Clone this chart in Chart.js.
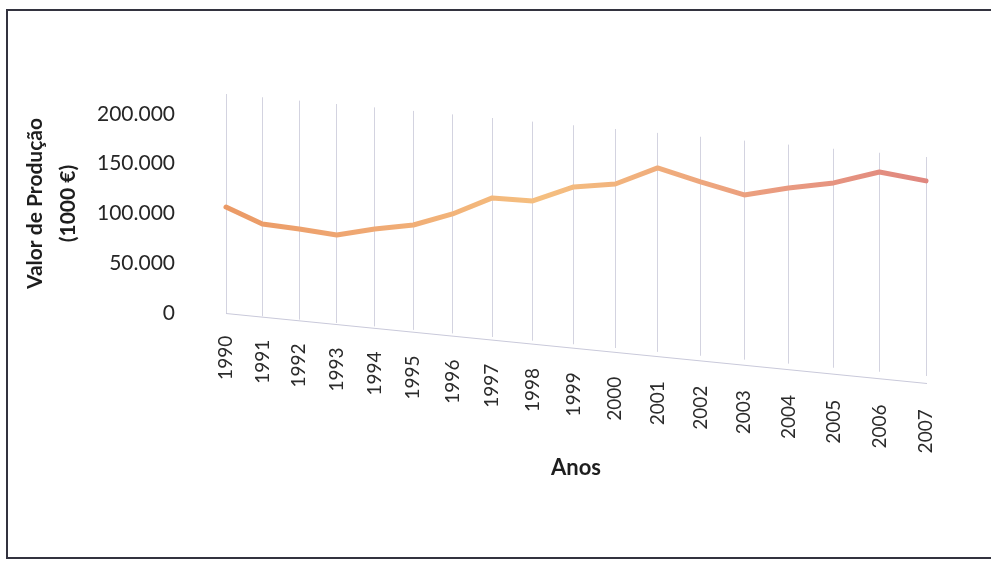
<!DOCTYPE html>
<html>
<head>
<meta charset="utf-8">
<title>Valor de Produção</title>
<script src="https://cdn.jsdelivr.net/npm/chart.js@4.4.1/dist/chart.umd.min.js"></script>
<style>
  html, body { margin: 0; padding: 0; background: #ffffff; width: 991px; height: 563px; overflow: hidden; }
  #wrap { position: absolute; left: 0; top: 0; width: 991px; height: 563px; }
  #frame { position: absolute; left: 6px; top: 9px; width: 1020px; height: 550px;
           border: 2px solid #33333f; box-sizing: border-box; pointer-events: none; }
</style>
</head>
<body>
<div id="wrap"><canvas id="c" width="991" height="563"></canvas></div>
<div id="frame"></div>
<script>
// Anos e valor de produção (milhares de euros)
const anos = ['1990', '1991', '1992', '1993', '1994', '1995', '1996', '1997', '1998',
              '1999', '2000', '2001', '2002', '2003', '2004', '2005', '2006', '2007'];
const valorProducao = [106500, 89400, 84400, 78400, 84400, 88400, 99500, 115600, 112600,
                       126600, 129600, 145700, 131700, 118600, 125600, 130700, 141700, 132700];
const valorTicks = [0, 50000, 100000, 150000, 200000];

const FONT = 'Lato, "Open Sans", "Noto Sans", sans-serif';

// Category axis whose spacing widens towards the right, like a floor seen in depth
class PerspectiveCategoryScale extends Chart.CategoryScale {
  getPixelForDecimal(decimal) {
    const depth = 1.14;
    const d = decimal / (depth - (depth - 1) * decimal);
    return super.getPixelForDecimal(d);
  }
}
PerspectiveCategoryScale.id = 'perspectiveCategory';
Chart.register(PerspectiveCategoryScale);

// Tilts the category axis (grid, floor edge, labels) downwards to the right
const floorSlant = {
  id: 'floorSlant',
  beforeDraw(chart) {
    const sx = chart.scales.x;
    if (sx.$slanted) return;
    sx.$slanted = true;
    const tilt = (name, slope) => {
      const orig = sx[name].bind(sx);
      sx[name] = function (...args) {
        const ctx = chart.ctx;
        const x0 = chart.chartArea.left;
        ctx.save();
        ctx.transform(1, slope, 0, 1, 0, -slope * x0);
        orig(...args);
        ctx.restore();
      };
    };
    tilt('drawGrid', 0.09);
    tilt('drawBorder', 0.1);
    // labels stay upright: only their anchor points follow the floor edge
    const labelSlope = 0.105;
    const compute = sx._computeLabelItems.bind(sx);
    sx._computeLabelItems = function (chartArea) {
      const items = compute(chartArea);
      const x0 = chart.chartArea.left;
      items.forEach(it => {
        const [x, y] = it.options.translation;
        it.options.translation = [x, y + labelSlope * (x - x0)];
      });
      return items;
    };
    sx._labelItems = null;
  }
};

const fmt = v => String(v).replace(/\B(?=(\d{3})+(?!\d))/g, '.');

new Chart(document.getElementById('c'), {
  type: 'line',
  data: {
    labels: anos,
    datasets: [{
      data: valorProducao,
      borderWidth: 5,
      borderCapStyle: 'round',
      borderJoinStyle: 'round',
      pointRadius: 0,
      tension: 0,
      clip: false,
      borderColor(ctx) {
        const a = ctx.chart.chartArea;
        if (!a) return '#f0a070';
        const g = ctx.chart.ctx.createLinearGradient(a.left, 0, a.right, 0);
        g.addColorStop(0, '#eb9a66');
        g.addColorStop(0.2, '#efa873');
        g.addColorStop(0.45, '#f5bf80');
        g.addColorStop(0.62, '#f0ad7c');
        g.addColorStop(0.8, '#e99a80');
        g.addColorStop(1, '#e0877f');
        return g;
      }
    }]
  },
  options: {
    responsive: false,
    animation: false,
    events: [],
    layout: { padding: { left: 10, right: 65, top: 94, bottom: 20 } },
    plugins: { legend: { display: false }, tooltip: { enabled: false } },
    scales: {
      x: {
        type: 'perspectiveCategory',
        offset: false,
        grid: { color: '#d3d3e0', lineWidth: 1, drawTicks: false },
        border: { display: true, color: '#c9c9da', width: 1 },
        ticks: {
          minRotation: 90, maxRotation: 90, autoSkip: false, padding: 24,
          color: '#2b2b2b', font: { family: FONT, size: 19 }
        },
        title: {
          display: true, text: 'Anos', color: '#1e1e1e',
          font: { family: FONT, size: 22, weight: 'bold', lineHeight: 1.2 },
          padding: { top: 0, bottom: 62 }
        },
        afterFit(scale) { scale.height = 230; }
      },
      y: {
        min: 0, max: 220000,
        grid: { display: false, drawTicks: false },
        border: { display: false },
        afterBuildTicks(scale) { scale.ticks = valorTicks.map(v => ({ value: v })); },
        ticks: {
          padding: 51, color: '#262626',
          font: { family: FONT, size: 21 },
          callback: v => fmt(v)
        },
        title: {
          display: true, text: ['Valor de Produção', '(1000 €)'], color: '#1e1e1e',
          font: { family: FONT, size: 21, weight: 'bold', lineHeight: '33px' },
          padding: { top: 9, bottom: 0 }
        },
        afterFit(scale) { scale.width = 216; }
      }
    }
  },
  plugins: [floorSlant]
});
</script>
</body>
</html>
